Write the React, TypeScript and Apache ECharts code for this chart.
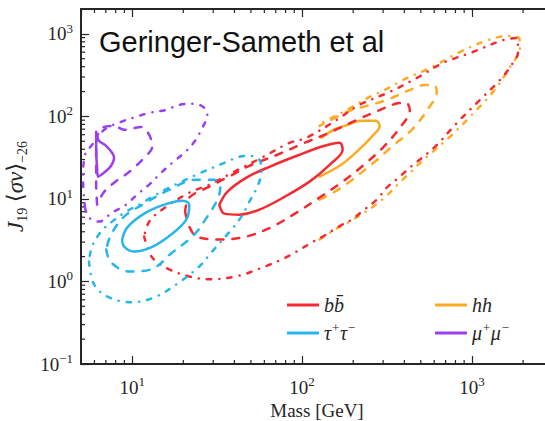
import { useEffect, useRef } from 'react';
import * as echarts from 'echarts';

// ---- data: contours, [mass GeV, J19<σv>-26] ----
const bbSolid = [[32.6,8.52],[36.3,12.2],[47.1,18.1],[64.3,24.5],[96.6,34.3],[135.8,44.0],[166.4,47.8],[173.4,39.4],[145.3,25.9],[110.7,16.2],[78.9,10.6],[56.1,7.41],[42.8,6.45],[34.9,6.63]];
const bbDashed = [[20.5,7.01],[23.2,3.70],[32.6,3.22],[47.1,3.50],[67.0,4.62],[92.8,6.82],[126.8,10.4],[173.4,16.2],[227.6,25.2],[298.5,41.6],[375.9,72.6],[430.6,118],[410,146],[355,142],[278.9,116.5],[209.7,90.7],[149.3,65.0],[103.5,47.8],[71.6,34.3],[49.0,25.2],[38.9,19.6],[28.5,14.1],[21.7,10.4]];
const bbDashDot = [[11.77,3.50],[13.13,1.95],[16.52,1.40],[21.7,1.15],[28.5,1.06],[42.8,1.18],[58.5,1.48],[75.7,1.84],[92.8,2.30],[113.8,2.96],[135.8,3.60],[164.2,4.62],[195.9,5.61],[224.5,7.01],[275.2,9.8],[315.1,13.7],[375.9,18.6],[430.6,23.9],[605,42.8],[816,83.4],[1085,150],[1462,276],[1675,396],[1868,602],[1843,889],[1524,840],[1013,602],[674,443],[474,292],[328,198],[218,138],[160,90.7],[106,55.0],[84.4,47.8],[57.7,31.5],[38.9,20.8],[28.5,14.9],[21.7,11.9],[15.0,7.41],[12.6,5.31]];

const tauSolid = [[8.73,3.22],[9.34,4.49],[11.77,6.63],[15.45,8.52],[19.72,9.5],[21.69,8.52],[20.83,5.61],[16.98,3.70],[12.94,2.58],[10.27,2.30],[8.97,2.65]];
const tauDashed = [[7.03,2.44],[7.52,1.70],[9.6,1.32],[12.94,1.40],[17.22,2.24],[23.22,3.70],[27.7,6.10],[31.74,9.8],[33.04,13.7],[30.47,17.1],[23.86,17.1],[16.52,12.9],[11.77,8.76],[8.97,6.10],[7.52,3.70]];
const tauDashDot = [[5.57,1.74],[5.97,0.92],[7.32,0.64],[10,0.56],[13.49,0.64],[18.19,0.92],[24.85,1.52],[29.24,2.24],[38.4,4.25],[43.95,6.10],[48.98,9.26],[54.6,14.1],[57.66,21.3],[56.1,29.8],[48.98,33.3],[42.8,32.4],[34.9,27.4],[23.86,19.6],[16.52,13.7],[13.13,10.6],[11.0,8.52],[9.22,7.01],[7.62,5.31],[6.56,4.02],[5.81,2.65]];

const hhSolid = [[126.8,18.6],[166.4,25.2],[209.7,37.2],[257,56.5],[286.5,76.7],[271.5,88.3],[224.5,88.3],[178.1,76.7],[149.3,66.8],[130.3,55.0]];
const hhDashed = [[126.8,9.8],[155.6,12.2],[190.6,16.2],[267.9,28.2],[342,44.0],[442.6,68.7],[557.3,127],[621.6,198],[597,240],[528.4,240],[430.6,209],[315.1,158],[240.3,134],[183,113.3],[145.3,88.3],[126.8,76.7]];
const hhDashDot = [[126.8,3.22],[155.6,4.25],[190.6,5.31],[286.5,9.26],[402.5,18.1],[542.7,32.4],[741.3,56.5],[972.6,98.6],[1330,198],[1675,396],[1919,691],[1893,889],[1609,939],[1242,840],[849.4,602],[580.8,396],[391.6,276],[306.8,209],[250,172],[188.1,123],[149.3,95.9],[126.8,81.1]];

const mumuSolid = [[6.14,65.0],[6.38,50.6],[7.03,44.0],[7.62,36.2],[7.83,31.5],[7.52,25.2],[6.93,21.3],[6.30,18.6],[6.22,23.9],[6.14,39.4]];
const mumuDashed = [[6.22,8.52],[6.14,14.9],[6.14,29.8],[6.22,55.0],[6.65,72.6],[7.83,76.7],[8.97,68.7],[11.3,74.6],[12.6,59.7],[13.13,42.8],[11.77,31.5],[10.27,23.9],[8.97,19.1],[7.83,15.7],[6.84,12.2]];
const mumuDashDot = [[5.28,7.84],[5.14,17.1],[5.28,34.3],[5.81,45.2],[6.84,68.7],[8.61,85.9],[10.56,98.6],[12.6,110.2],[15.87,120],[18.93,138],[23.22,142],[26.6,127],[27.7,104.2],[25.88,72.6],[23.22,49.2],[20.27,36.2],[17.22,27.4],[14.83,20.8],[12.6,14.9],[10.7,11.3],[9.22,8.52],[7.62,6.82],[6.38,5.31],[5.57,5.94]];

// ---- axes ----
const xMajorTicks = [10, 100, 1000];
const yMajorTicks = [0.1, 1, 10, 100, 1000];
const xMinorTicks = [6, 7, 8, 9, 20, 30, 40, 50, 60, 70, 80, 90, 200, 300, 400, 500, 600, 700, 800, 900, 2000];
const yMinorTicks = [0.2, 0.3, 0.4, 0.5, 0.6, 0.7, 0.8, 0.9, 2, 3, 4, 5, 6, 7, 8, 9, 20, 30, 40, 50, 60, 70, 80, 90, 200, 300, 400, 500, 600, 700, 800, 900];
const xRange = [5, 3000];
const yRange = [0.1, 2000];

const channelNames = ['bb\u0304', '\u03c4+\u03c4\u2212', 'hh', '\u03bc+\u03bc\u2212'];
const channelColors = ['#f42a32', '#26b6ec', '#fdaa24', '#9b40ee'];
const titleText = 'Geringer-Sameth et al';

const SERIF = '"Liberation Serif", "DejaVu Serif", serif';
const INK = '#262626';

const DASH = [7, 9];
const DASHDOT = [4.5, 8, 0.1, 8];

function isMajor(v: number, list: number[]) {
  return list.some((t) => Math.abs(t - v) / t < 1e-6);
}
function powLabel(v: number) {
  const e = Math.round(Math.log10(v));
  const s = e < 0 ? '\u2212' + -e : String(e);
  return `{b|10}{s|${s}}`;
}
const tickRich = {
  b: { fontFamily: SERIF, fontSize: 19, color: INK, lineHeight: 24 },
  s: { fontFamily: SERIF, fontSize: 13, color: INK, verticalAlign: 'top', lineHeight: 14 },
};

function legendLabel(name: string) {
  if (name === channelNames[1]) return '{i|\u03c4}{s|+}{i|\u03c4}{s|\u2212}';
  if (name === channelNames[3]) return '{i|\u03bc}{s|+}{i|\u03bc}{s|\u2212}';
  return `{i|${name}}`;
}
const legendRich = {
  i: { fontFamily: SERIF, fontStyle: 'italic', fontSize: 20, color: INK, lineHeight: 24 },
  s: { fontFamily: SERIF, fontStyle: 'italic', fontSize: 13, color: INK, verticalAlign: 'top', lineHeight: 14 },
};

function contour(name: string, color: string, data: number[][], type: any, closed: boolean, z: number) {
  return {
    type: 'line',
    name,
    data: closed ? [...data, data[0]] : data,
    xAxisIndex: 0,
    yAxisIndex: 0,
    showSymbol: false,
    symbol: 'none',
    smooth: 0.35,
    silent: true,
    z,
    lineStyle: { color, width: 2.5, type, cap: 'round' },
    itemStyle: { color },
  };
}

function minorTickSeries(values: number[], axis: 'x' | 'y') {
  return {
    type: 'custom',
    silent: true,
    xAxisIndex: 0,
    yAxisIndex: 0,
    z: 5,
    data: values.map((v) => (axis === 'x' ? [v, 1] : [10, v])),
    renderItem: (params: any, api: any) => {
      const cs = params.coordSys;
      const style = { stroke: INK, lineWidth: 1.2 };
      const len = 4;
      if (axis === 'x') {
        const x = api.coord([api.value(0), 1])[0];
        return {
          type: 'group',
          children: [
            { type: 'line', shape: { x1: x, y1: cs.y + cs.height, x2: x, y2: cs.y + cs.height - len }, style },
            { type: 'line', shape: { x1: x, y1: cs.y, x2: x, y2: cs.y + len }, style },
          ],
        };
      }
      const y = api.coord([10, api.value(1)])[1];
      return {
        type: 'group',
        children: [
          { type: 'line', shape: { x1: cs.x, y1: y, x2: cs.x + len, y2: y }, style },
          { type: 'line', shape: { x1: cs.x + cs.width, y1: y, x2: cs.x + cs.width - len, y2: y }, style },
        ],
      };
    },
  };
}

export default function App() {
  const ref = useRef<HTMLDivElement>(null);
  useEffect(() => {
    if (!ref.current) return;
    const chart = echarts.init(ref.current, null, { renderer: 'svg' });
    const axisLine = { show: true, lineStyle: { color: INK, width: 2 } };
    const axisTick = { show: true, inside: true, length: 8, lineStyle: { color: INK, width: 1.2 } };
    const [bb, tau, hh, mumu] = channelNames;
    const [cbb, ctau, chh, cmumu] = channelColors;
    chart.setOption({
      animation: false,
      backgroundColor: '#ffffff',
      grid: { left: 81, top: 9, width: 472, height: 355, outerBoundsMode: 'none', containLabel: false },
      graphic: [
        {
          type: 'text',
          left: 99,
          top: 27,
          style: { text: titleText, fontFamily: '"Liberation Sans", Arial, sans-serif', fontSize: 29, fill: '#111' },
          z: 100,
        },
      ],
      xAxis: [
        {
          type: 'log',
          logBase: 10,
          min: xRange[0],
          max: xRange[1],
          position: 'bottom',
          axisLine,
          axisTick,
          splitLine: { show: false },
          axisLabel: {
            margin: 11,
            showMinLabel: false,
            showMaxLabel: false,
            formatter: (v: number) => (isMajor(v, xMajorTicks) ? powLabel(v) : ''),
            rich: tickRich,
          },
          name: 'Mass [GeV]',
          nameLocation: 'middle',
          nameGap: 34,
          nameTextStyle: { fontFamily: SERIF, fontSize: 19, color: INK },
        },
        {
          type: 'log',
          logBase: 10,
          min: xRange[0],
          max: xRange[1],
          position: 'top',
          axisLine,
          axisTick,
          axisLabel: { show: false },
          splitLine: { show: false },
        },
      ],
      yAxis: [
        {
          type: 'log',
          logBase: 10,
          min: yRange[0],
          max: yRange[1],
          position: 'left',
          axisLine,
          axisTick,
          splitLine: { show: false },
          axisLabel: {
            margin: 8,
            showMaxLabel: false,
            formatter: (v: number) => (isMajor(v, yMajorTicks) ? powLabel(v) : ''),
            rich: tickRich,
          },
          name: '{i|J}{sb|19} {n|\u27e8}{i|\u03c3v}{n|\u27e9}{sb|\u221226}',
          nameLocation: 'middle',
          nameRotate: 90,
          nameGap: 50,
          nameTextStyle: {
            fontFamily: SERIF,
            fontSize: 22,
            color: INK,
            rich: {
              i: { fontFamily: SERIF, fontStyle: 'italic', fontSize: 23, color: INK, lineHeight: 28 },
              n: { fontFamily: SERIF, fontSize: 23, color: INK, lineHeight: 28 },
              sb: { fontFamily: SERIF, fontSize: 14, color: INK, verticalAlign: 'bottom', lineHeight: 16 },
            },
          },
        },
        {
          type: 'log',
          logBase: 10,
          min: yRange[0],
          max: yRange[1],
          position: 'right',
          axisLine,
          axisTick,
          axisLabel: { show: false },
          splitLine: { show: false },
        },
      ],
      legend: [
        {
          data: [bb, tau],
          orient: 'vertical',
          left: 282,
          top: 290,
          icon: 'rect',
          itemWidth: 32,
          itemHeight: 3,
          itemGap: 6,
          itemTextGap: 16,
          formatter: legendLabel,
          textStyle: { rich: legendRich },
          selectedMode: false,
        },
        {
          data: [hh, mumu],
          orient: 'vertical',
          left: 430,
          top: 290,
          icon: 'rect',
          itemWidth: 32,
          itemHeight: 3,
          itemGap: 6,
          itemTextGap: 16,
          formatter: legendLabel,
          textStyle: { rich: legendRich },
          selectedMode: false,
        },
      ],
      series: [
        contour(bb, cbb, bbSolid, 'solid', true, 10),
        contour(bb, cbb, bbDashed, DASH, true, 10),
        contour(bb, cbb, bbDashDot, DASHDOT, true, 10),
        contour(tau, ctau, tauSolid, 'solid', true, 11),
        contour(tau, ctau, tauDashed, DASH, true, 11),
        contour(tau, ctau, tauDashDot, DASHDOT, true, 11),
        contour(hh, chh, hhSolid, 'solid', false, 9),
        contour(hh, chh, hhDashed, DASH, false, 9),
        contour(hh, chh, hhDashDot, DASHDOT, false, 9),
        contour(mumu, cmumu, mumuSolid, 'solid', true, 12),
        contour(mumu, cmumu, mumuDashed, DASH, true, 12),
        contour(mumu, cmumu, mumuDashDot, DASHDOT, true, 12),
        minorTickSeries(xMinorTicks, 'x'),
        minorTickSeries(yMinorTicks, 'y'),
      ],
    });
    return () => chart.dispose();
  }, []);
  return <div ref={ref} style={{ position: 'fixed', left: 0, top: 0, width: 545, height: 421 }} />;
}
